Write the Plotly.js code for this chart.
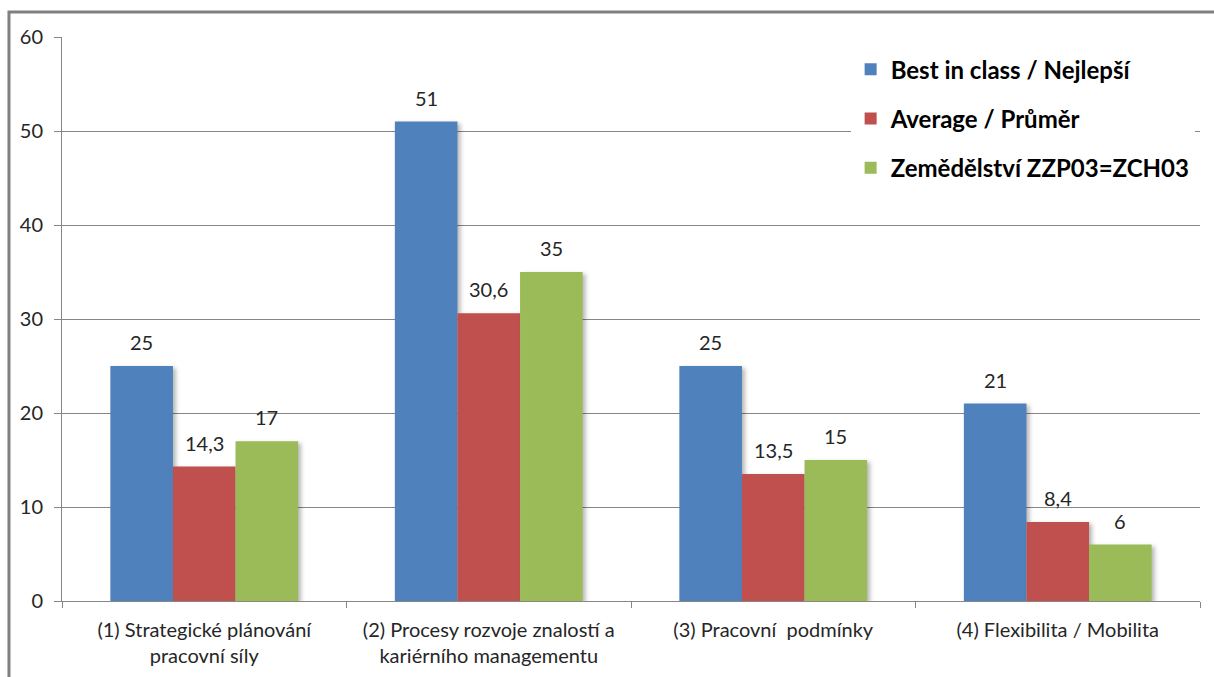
<!DOCTYPE html>
<html>
<head>
<meta charset="utf-8">
<script src="https://cdn.plot.ly/plotly-3.0.1.min.js"></script>
<style>
  html, body { margin: 0; padding: 0; background: #fff; }
  #chart { width: 1214px; height: 677px; }
  .trace.bars .point path { filter: drop-shadow(3px 2px 2px rgba(0,0,0,0.28)); }
</style>
</head>
<body>
<div id="chart"></div>
<script>
const categories = [
  "(1) Strategické plánování<br>pracovní síly",
  "(2) Procesy rozvoje znalostí a<br>kariérního managementu",
  "(3) Pracovní  podmínky",
  "(4) Flexibilita / Mobilita"
];
const seriesNames = ["Best in class / Nejlepší", "Average / Průměr", "Zemědělství ZZP03=ZCH03"];
const bestInClass = [25, 51, 25, 21];
const average = [14.3, 30.6, 13.5, 8.4];
const zemedelstvi = [17, 35, 15, 6];
const seriesColors = ["#4F81BD", "#C0504D", "#9BBB59"];

const fmt = v => String(v).replace('.', ',');
const allSeries = [bestInClass, average, zemedelstvi];
const BARGAP = 0.34;
const barW = (1 - BARGAP) / allSeries.length;

const traces = allSeries.map((vals, i) => ({
  type: 'bar',
  name: seriesNames[i],
  x: categories,
  y: vals,
  marker: { color: seriesColors[i], line: { width: 0 } },
  legendgroup: 'g' + i,
  hoverinfo: 'none'
}));

const annotations = [];
allSeries.forEach((vals, i) => {
  vals.forEach((v, j) => {
    annotations.push({
      xref: 'x', yref: 'y',
      x: j + (i - (allSeries.length - 1) / 2) * barW,
      y: v,
      text: fmt(v),
      showarrow: false,
      yanchor: 'middle', xanchor: 'center',
      yshift: 24,
      font: { family: 'Lato, sans-serif', size: 20, color: '#262626' }
    });
  });
});

const layout = {
  width: 1214, height: 677,
  margin: { l: 62, r: 14, t: 37, b: 76 },
  paper_bgcolor: '#fff', plot_bgcolor: '#fff',
  font: { family: 'Lato, sans-serif', size: 20, color: '#262626' },
  bargap: BARGAP,
  barmode: 'group',
  showlegend: true,
  legend: {
    x: 0.693, y: 0.982, xanchor: 'left', yanchor: 'top',
    bgcolor: '#ffffff',
    font: { family: 'Lato, sans-serif', size: 24, color: '#000', weight: 'bold' },
    tracegroupgap: 15,
    itemclick: false
  },
  xaxis: {
    type: 'category',
    showline: true, linecolor: '#868686', linewidth: 1,
    ticks: 'outside', tickson: 'boundaries', ticklen: 6, tickcolor: '#868686',
    showgrid: false,
    ticklabelstandoff: 11,
    tickfont: { family: 'Lato, sans-serif', size: 20, color: '#262626' }
  },
  yaxis: {
    range: [0, 60], dtick: 10,
    showline: true, linecolor: '#868686', linewidth: 1,
    ticks: 'outside', ticklen: 7, tickcolor: '#868686',
    gridcolor: '#868686', gridwidth: 1,
    zeroline: false,
    ticklabelstandoff: 7,
    tickfont: { family: 'Lato, sans-serif', size: 20, color: '#262626' }
  },
  annotations: annotations,
  shapes: [{
    type: 'rect', xref: 'paper', yref: 'paper',
    x0: -0.0466, x1: 1.02, y0: -0.2, y1: 1.0443,
    line: { color: '#808080', width: 3 }, fillcolor: 'rgba(0,0,0,0)', layer: 'above'
  }]
};

Plotly.newPlot('chart', traces, layout, { staticPlot: true, displayModeBar: false });
</script>
</body>
</html>
